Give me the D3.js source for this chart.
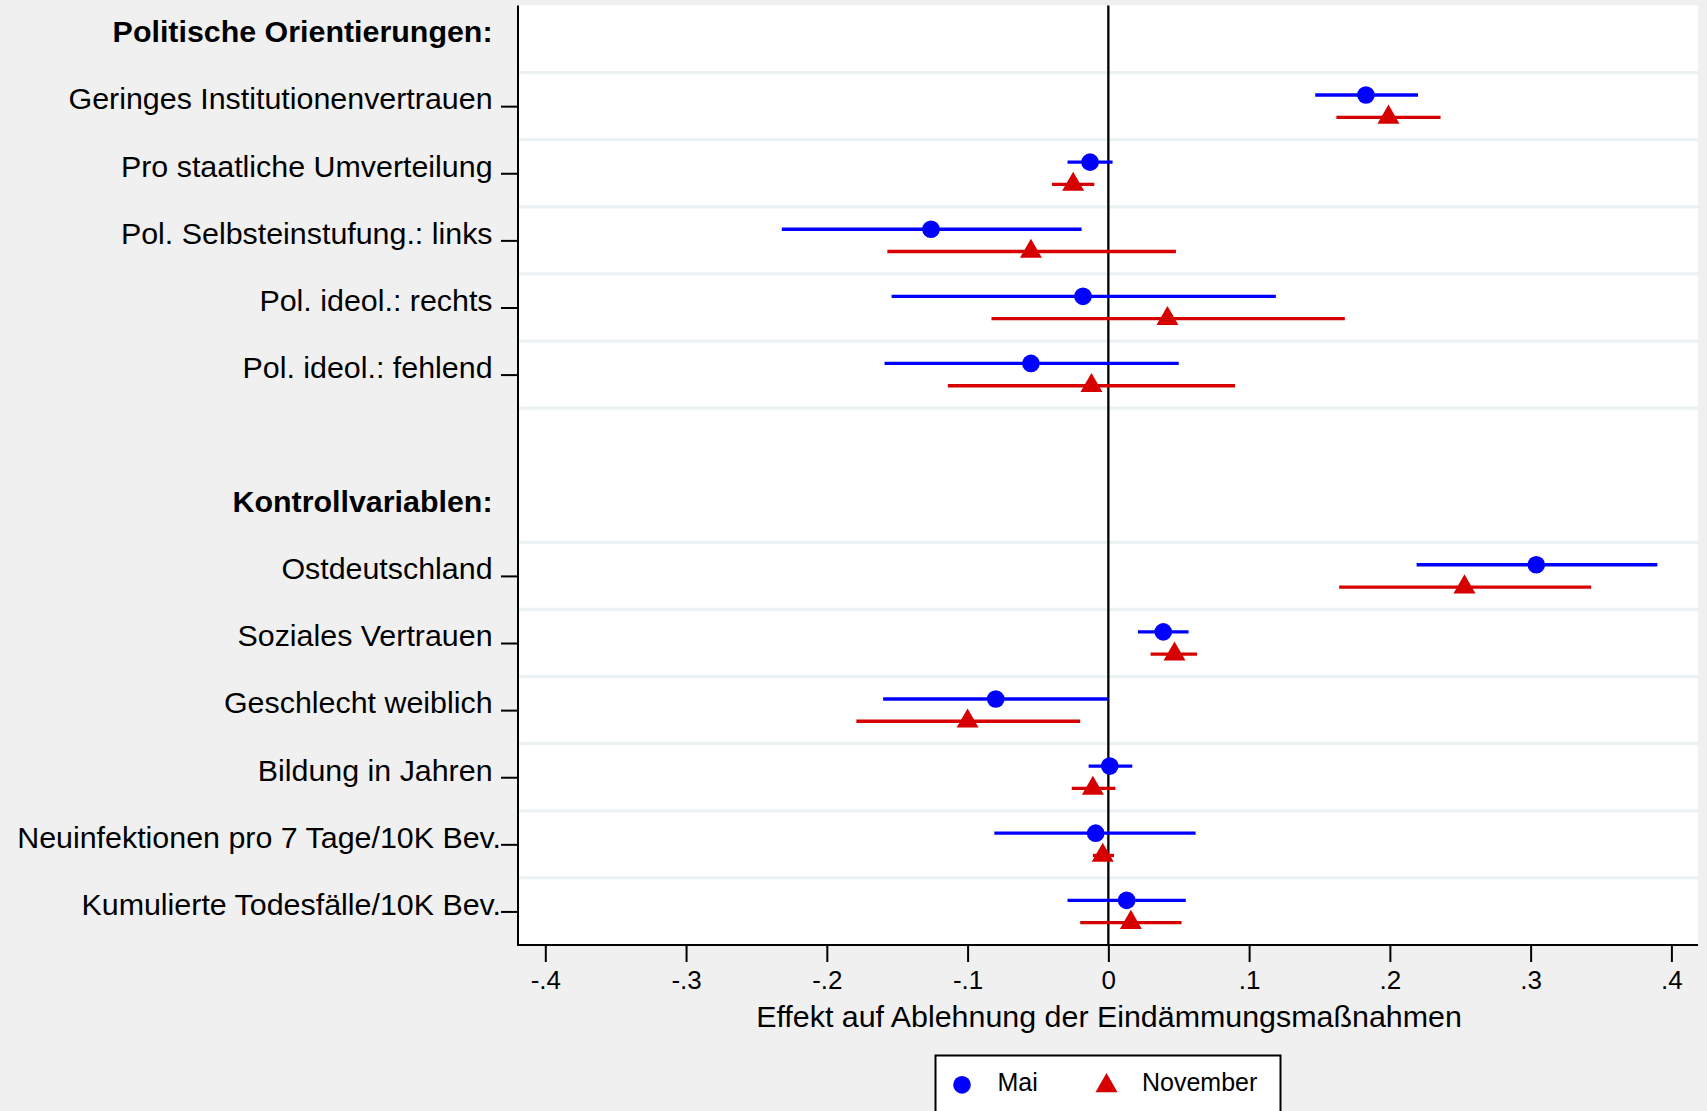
<!DOCTYPE html>
<html>
<head>
<meta charset="utf-8">
<script src="https://cdn.jsdelivr.net/npm/d3@7"></script>
<style>
  html, body { margin: 0; padding: 0; background: #F0F0F0; }
  svg { display: block; }
  text { font-family: "Liberation Sans", Arial, Helvetica, sans-serif; fill: #000; }
</style>
</head>
<body>
<svg id="chart" width="1707" height="1111"></svg>
<script>
// ---------------- data ----------------
const headers = ["Politische Orientierungen: ", "Kontrollvariablen: "];
const categories = [
  "Geringes Institutionenvertrauen ",
  "Pro staatliche Umverteilung ",
  "Pol. Selbsteinstufung.: links ",
  "Pol. ideol.: rechts ",
  "Pol. ideol.: fehlend ",
  "Ostdeutschland ",
  "Soziales Vertrauen ",
  "Geschlecht weiblich ",
  "Bildung in Jahren ",
  "Neuinfektionen pro 7 Tage/10K Bev.",
  "Kumulierte Todesfälle/10K Bev."
];
const categoryGroup = [0, 0, 0, 0, 0, 1, 1, 1, 1, 1, 1];

const maiEst = [0.183, -0.013, -0.126, -0.018, -0.055, 0.304, 0.039, -0.080, 0.001, -0.009, 0.013];
const maiLo  = [0.147, -0.029, -0.232, -0.154, -0.159, 0.219, 0.021, -0.160, -0.014, -0.081, -0.029];
const maiHi  = [0.220, 0.003, -0.019, 0.119, 0.050, 0.390, 0.057, 0.000, 0.017, 0.062, 0.055];

const novEst = [0.199, -0.025, -0.055, 0.042, -0.012, 0.253, 0.047, -0.100, -0.011, -0.004, 0.016];
const novLo  = [0.162, -0.040, -0.157, -0.083, -0.114, 0.164, 0.030, -0.179, -0.026, -0.011, -0.020];
const novHi  = [0.236, -0.010, 0.048, 0.168, 0.090, 0.343, 0.063, -0.020, 0.005, 0.004, 0.052];

const xTicks = [-0.4, -0.3, -0.2, -0.1, 0, 0.1, 0.2, 0.3, 0.4];
const xTickLabels = ["-.4", "-.3", "-.2", "-.1", "0", ".1", ".2", ".3", ".4"];
const seriesNames = ["Mai", "November"];
const seriesColors = ["#0000FF", "#D70000"];
const xTitle = "Effekt auf Ablehnung der Eindämmungsmaßnahmen";

// ---------------- row layout ----------------
const headerRows = [];
const itemRows = [];
let r = 0;
headers.forEach((h, g) => {
  headerRows.push(r);
  r += 1;
  categories.forEach((c, i) => {
    if (categoryGroup[i] === g) { itemRows[i] = r; r += 1; }
  });
  if (g < headers.length - 1) r += 1; // blank spacer row
});
const lastRow = r - 1;

// ---------------- geometry ----------------
const W = 1707, H = 1111;
const plot = { left: 518, right: 1698, top: 5.5, bottom: 945 };
const labelSize = 30.4;

const svg = d3.select("#chart");
svg.append("rect").attr("x", 0).attr("y", 0).attr("width", W).attr("height", H).attr("fill", "#F0F0F0");

const x = d3.scaleLinear().domain([-0.4, 0.4]).range([545.3, 1671.4]);
const y = d3.scaleLinear().domain([-0.5, lastRow + 0.5]).range([plot.top, plot.bottom]);

// plot region
svg.append("rect")
  .attr("x", plot.left).attr("y", plot.top)
  .attr("width", plot.right - plot.left).attr("height", plot.bottom - plot.top)
  .attr("fill", "#FFFFFF");

// gridlines between rows
const gridRows = headerRows.concat(itemRows).map(d => d + 0.5).filter(d => d < lastRow + 0.5);
svg.append("g").selectAll("line").data(gridRows).join("line")
  .attr("x1", plot.left).attr("x2", plot.right)
  .attr("y1", d => y(d)).attr("y2", d => y(d))
  .attr("stroke", "#EAF2F3").attr("stroke-width", 3.2);

// zero line
svg.append("line")
  .attr("x1", x(0)).attr("x2", x(0)).attr("y1", plot.top).attr("y2", plot.bottom)
  .attr("stroke", "#000").attr("stroke-width", 2.3);

// ---------------- series ----------------
const offset = 0.166;
const series = [
  { name: seriesNames[0], color: seriesColors[0], est: maiEst, lo: maiLo, hi: maiHi, dy: -offset, sym: d3.symbolCircle, size: 245 },
  { name: seriesNames[1], color: seriesColors[1], est: novEst, lo: novLo, hi: novHi, dy: offset, sym: d3.symbolTriangle, size: 210 }
];

series.forEach(s => {
  const g = svg.append("g");
  const idx = d3.range(categories.length);
  g.selectAll("line").data(idx).join("line")
    .attr("x1", i => x(s.lo[i])).attr("x2", i => x(s.hi[i]))
    .attr("y1", i => y(itemRows[i] + s.dy)).attr("y2", i => y(itemRows[i] + s.dy))
    .attr("stroke", s.color).attr("stroke-width", 3.3);
  g.selectAll("path").data(idx).join("path")
    .attr("d", d3.symbol().type(s.sym).size(s.size))
    .attr("transform", i => `translate(${x(s.est[i])},${y(itemRows[i] + s.dy)})`)
    .attr("fill", s.color);
});

// ---------------- axes ----------------
// left axis
svg.append("line")
  .attr("x1", plot.left).attr("x2", plot.left).attr("y1", plot.top).attr("y2", plot.bottom + 1)
  .attr("stroke", "#000").attr("stroke-width", 2);
// bottom axis
svg.append("line")
  .attr("x1", plot.left - 1).attr("x2", plot.right).attr("y1", plot.bottom).attr("y2", plot.bottom)
  .attr("stroke", "#000").attr("stroke-width", 2);

const xAxis = d3.axisBottom(x).tickValues(xTicks)
  .tickFormat((d, i) => xTickLabels[i]).tickSize(17).tickPadding(8);
const gx = svg.append("g").attr("transform", `translate(0,${plot.bottom})`).call(xAxis);
gx.select(".domain").remove();
gx.selectAll(".tick line").attr("stroke", "#000").attr("stroke-width", 2);
gx.selectAll(".tick text")
  .attr("font-size", 26).attr("font-family", null)
  .attr("y", 44).attr("dy", 0);

const yAxis = d3.axisLeft(y).tickValues(itemRows)
  .tickFormat(d => categories[itemRows.indexOf(d)]).tickSize(17).tickPadding(0);
const gy = svg.append("g").attr("transform", `translate(${plot.left},0)`).call(yAxis);
gy.select(".domain").remove();
gy.selectAll(".tick line").attr("stroke", "#000").attr("stroke-width", 2);
gy.selectAll(".tick text")
  .attr("font-size", labelSize).attr("font-family", null)
  .attr("dy", 2.8)
  .attr("xml:space", "preserve").style("white-space", "pre");

// group headers
svg.append("g").selectAll("text").data(headers).join("text")
  .attr("x", plot.left - 17).attr("y", (d, i) => y(headerRows[i]) + 3.4)
  .attr("text-anchor", "end").attr("font-size", labelSize).attr("font-weight", "bold")
  .attr("xml:space", "preserve").style("white-space", "pre")
  .text(d => d);

// x title
svg.append("text")
  .attr("x", (plot.left + plot.right) / 2 + 1).attr("y", 1027)
  .attr("text-anchor", "middle").attr("font-size", labelSize)
  .text(xTitle);

// ---------------- legend ----------------
const cx = (plot.left + plot.right) / 2;
const lg = svg.append("g");
lg.append("rect")
  .attr("x", cx - 172.5).attr("y", 1055.5).attr("width", 345).attr("height", 90)
  .attr("fill", "#FFFFFF").attr("stroke", "#000").attr("stroke-width", 2);
const legendX = [cx - 146, cx - 1.5];
series.forEach((s, i) => {
  lg.append("path")
    .attr("d", d3.symbol().type(s.sym).size(s.size))
    .attr("transform", `translate(${legendX[i]},${i === 0 ? 1084.8 : 1085.8})`)
    .attr("fill", s.color);
  lg.append("text")
    .attr("x", legendX[i] + 35.5).attr("y", 1091)
    .attr("font-size", 25)
    .text(s.name);
});
</script>
</body>
</html>
